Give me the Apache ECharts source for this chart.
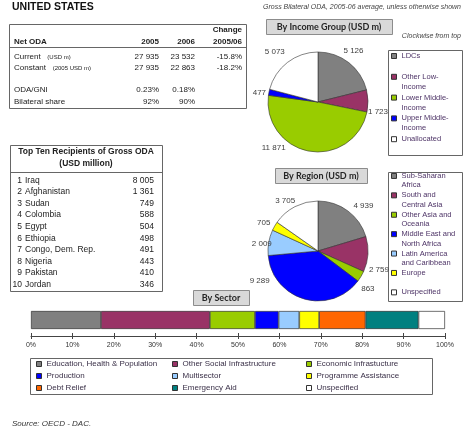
<!DOCTYPE html>
<html>
<head>
<meta charset="utf-8">
<script src="https://cdn.jsdelivr.net/npm/echarts@6/dist/echarts.min.js"></script>
<style>
  html, body { margin: 0; padding: 0; background: #fff; }
  #main { width: 474px; height: 431px; }
</style>
</head>
<body>
<div id="main"></div>
<script>
// net ODA table
const odaLabels = ['Current', 'Constant', 'ODA/GNI', 'Bilateral share'];
const odaUnits = ['(USD m)', '(2005 USD m)', '', ''];
const oda2005 = ['27 935', '27 935', '0.23%', '92%'];
const oda2006 = ['23 532', '22 863', '0.18%', '90%'];
const odaChange = ['-15.8%', '-18.2%', '', ''];

// top ten recipients
const recipients = ['Iraq', 'Afghanistan', 'Sudan', 'Colombia', 'Egypt', 'Ethiopia',
  'Congo, Dem. Rep.', 'Nigeria', 'Pakistan', 'Jordan'];
const recipientValues = [8005, 1361, 749, 588, 504, 498, 491, 443, 410, 346];

// pies
const incomeGroups = ['LDCs', 'Other Low-Income', 'Lower Middle-Income', 'Upper Middle-Income', 'Unallocated'];
const incomeValues = [5126, 1723, 11871, 477, 5073];
const regions = ['Sub-Saharan Africa', 'South and Central Asia', 'Other Asia and Oceania',
  'Middle East and North Africa', 'Latin America and Caribbean', 'Europe', 'Unspecified'];
const regionValues = [4939, 2759, 863, 9289, 2009, 705, 3705];

// sector shares (%)
const sectors = ['Education, Health & Population', 'Other Social Infrastructure', 'Economic Infrastucture',
  'Production', 'Multisector', 'Programme Assistance', 'Debt Relief', 'Emergency Aid', 'Unspecified'];
const sectorShares = [16.9, 26.3, 10.9, 5.7, 5.0, 4.8, 11.2, 12.8, 6.4];

const incomeColors = ['#808080', '#993366', '#99cc00', '#0000ff', '#ffffff'];
const regionColors = ['#808080', '#993366', '#99cc00', '#0000ff', '#99ccff', '#ffff00', '#ffffff'];
const sectorColors = ['#808080', '#993366', '#99cc00', '#0000ff', '#99ccff', '#ffff00', '#ff6600', '#008080', '#ffffff'];

const incomeLegendText = ['LDCs\n\u00a0', 'Other Low-\nIncome', 'Lower Middle-\nIncome', 'Upper Middle-\nIncome', 'Unallocated\n\u00a0'];
const regionLegendText = ['Sub-Saharan\nAfrica', 'South and\nCentral Asia', 'Other Asia and\nOceania',
  'Middle East and\nNorth Africa', 'Latin America\nand Caribbean', 'Europe\n\u00a0', 'Unspecified\n\u00a0'];

// nudges so the pie labels sit where excel put them
const incomeLabelShift = [[-14, -7], [-11, 11], [-18, -9], [8, 2], [6, -6]];
const regionLabelShift = [[-3, 0], [-10, 15], [-10, 9], [-28, -24], [14, 2], [6, 0], [8, -1]];

const FONT = '"Liberation Sans", Arial, sans-serif';
const HFONT = 'Lato, "Liberation Sans", sans-serif';

function fmt(n) {
  return String(n).replace(/\B(?=(\d{3})+(?!\d))/g, ' ');
}

let chart = echarts.init(document.getElementById('main'));

// ---- graphic: texts, tables, boxes
let g = [];
function txt(x, y, text, opt) {
  g.push({
    type: 'text', x: x, y: y, silent: true,
    style: Object.assign({ text: text, fill: '#222', font: '8px ' + FONT, align: 'left', verticalAlign: 'middle' }, opt || {})
  });
}
function box(x, y, w, h, fill, stroke) {
  g.push({
    type: 'rect', silent: true, shape: { x: x + 0.5, y: y + 0.5, width: w, height: h },
    style: { fill: fill || 'none', stroke: stroke || '#666', lineWidth: 1 }
  });
}
function header(x, y, w, h, text) {
  g.push({
    type: 'rect', silent: true, shape: { x: x + 0.5, y: y + 0.5, width: w, height: h },
    style: { fill: '#d9d9d9', stroke: '#8c8c8c', lineWidth: 1 }
  });
  txt(x + w / 2, y + h / 2 + 1, text, { font: 'bold 9px ' + HFONT, align: 'center', fill: '#262626' });
}

txt(12, 7, 'UNITED STATES', { font: 'bold 10.5px ' + FONT, fill: '#111' });
txt(461, 7, 'Gross Bilateral ODA, 2005-06 average, unless otherwise shown', { font: 'italic 7px ' + FONT, align: 'right', fill: '#444' });
txt(461, 36, 'Clockwise from top', { font: 'italic 7px ' + FONT, align: 'right', fill: '#444' });
txt(12, 424, 'Source: OECD - DAC.', { font: 'italic 8px ' + FONT, fill: '#333' });

// net ODA table
box(9, 24, 237, 84);
g.push({ type: 'line', silent: true, shape: { x1: 9, y1: 47.5, x2: 246, y2: 47.5 }, style: { stroke: '#666', lineWidth: 1 } });
txt(14, 42, 'Net ODA', { font: 'bold 8px ' + FONT });
txt(159, 42, '2005', { font: 'bold 8px ' + FONT, align: 'right' });
txt(195, 42, '2006', { font: 'bold 8px ' + FONT, align: 'right' });
txt(242, 30, 'Change', { font: 'bold 8px ' + FONT, align: 'right' });
txt(242, 42, '2005/06', { font: 'bold 8px ' + FONT, align: 'right' });
const odaY = [57, 68, 90, 102];
odaLabels.forEach(function (l, i) {
  g.push({
    type: 'text', x: 14, y: odaY[i], silent: true,
    style: {
      text: '{a|' + l + '}' + (odaUnits[i] ? '  {b|' + odaUnits[i] + '}' : ''),
      verticalAlign: 'middle',
      rich: { a: { font: '8px ' + FONT, fill: '#222' }, b: { font: '6px ' + FONT, fill: '#222' } }
    }
  });
  txt(159, odaY[i], oda2005[i], { align: 'right' });
  txt(195, odaY[i], oda2006[i], { align: 'right' });
  txt(242, odaY[i], odaChange[i], { align: 'right' });
});

// top ten table
box(10, 145, 152, 146);
g.push({ type: 'line', silent: true, shape: { x1: 10, y1: 172.5, x2: 162, y2: 172.5 }, style: { stroke: '#666', lineWidth: 1 } });
txt(86, 152, 'Top Ten Recipients of Gross ODA', { font: 'bold 8.5px ' + FONT, align: 'center' });
txt(86, 163.5, '(USD million)', { font: 'bold 8.5px ' + FONT, align: 'center' });
recipients.forEach(function (r, i) {
  let y = 180.5 + i * 11.55;
  txt(22, y, String(i + 1), { align: 'right', font: '8.5px ' + FONT });
  txt(25, y, r, { font: '8.5px ' + FONT });
  txt(154, y, fmt(recipientValues[i]), { align: 'right', font: '8.5px ' + FONT });
});

// headers and legend frames
header(266, 19, 126, 15, 'By Income Group (USD m)');
header(275, 168, 92, 15, 'By Region (USD m)');
header(193, 290, 56, 15, 'By Sector');
box(388, 50, 74, 105);
box(388, 172, 74, 129);
box(30, 358, 402, 36);

// ---- series
function pieSeries(name, center, names, values, colors, shifts) {
  return {
    name: name, type: 'pie', radius: 50, center: center,
    startAngle: 90, clockwise: true, silent: true,
    avoidLabelOverlap: false,
    itemStyle: { borderColor: '#333', borderWidth: 0.6 },
    label: {
      show: true, position: 'outside', overflow: 'none', edgeDistance: 0, bleedMargin: 0,
      formatter: function (p) { return fmt(p.value); },
      color: '#404040', fontSize: 8, fontFamily: FONT
    },
    labelLine: { show: false, length: 6, length2: 0 },
    data: names.map(function (n, i) {
      return { name: n, value: values[i], itemStyle: { color: colors[i] }, label: { offset: shifts[i] } };
    })
  };
}

let series = [
  pieSeries('income', [318, 102], incomeGroups, incomeValues, incomeColors, incomeLabelShift),
  pieSeries('region', [318, 251], regions, regionValues, regionColors, regionLabelShift)
];
sectors.forEach(function (s, i) {
  series.push({
    name: s, type: 'bar', stack: 'sector', barWidth: 18, silent: true,
    itemStyle: { color: sectorColors[i], borderColor: '#333', borderWidth: 0.7 },
    data: [sectorShares[i]]
  });
});

const legendIcon = { borderColor: '#333', borderWidth: 1 };
// a blank first line keeps the marker level with the first text line
function sideLegend(names, texts, top, lh) {
  return {
    data: names, orient: 'vertical', left: 391, top: top, padding: 0,
    itemWidth: 5, itemHeight: 5, itemGap: -lh + 0.8, icon: 'rect', selectedMode: false,
    itemStyle: legendIcon,
    formatter: function (n) { return '\u00a0\n' + texts[names.indexOf(n)]; },
    textStyle: { fontSize: 7.5, lineHeight: lh, color: '#4d3366', fontFamily: FONT }
  };
}
function sectorLegend(idx, left) {
  return {
    data: idx.map(function (i) { return sectors[i]; }), orient: 'vertical', left: left, top: 359, padding: 0,
    itemWidth: 5, itemHeight: 5, itemGap: 2, icon: 'rect', selectedMode: false,
    itemStyle: legendIcon,
    textStyle: { fontSize: 8, lineHeight: 10, color: '#3a3048', fontFamily: FONT }
  };
}

chart.setOption({
  animation: false,
  graphic: g,
  grid: { left: 31, right: 29, top: 311, height: 18 },
  xAxis: [{
    type: 'value', min: 0, max: 100, interval: 10, position: 'bottom', offset: 7,
    axisLine: { show: true, lineStyle: { color: '#444', width: 1 } },
    axisTick: { show: true, length: 3, lineStyle: { color: '#444' } },
    axisLabel: { formatter: '{value}%', fontSize: 7, color: '#333', fontFamily: FONT, margin: 6 },
    splitLine: { show: false }
  }, {
    type: 'value', min: 0, max: 100, interval: 10, position: 'bottom', offset: 7,
    axisLine: { show: false },
    axisTick: { show: true, inside: true, length: 3, lineStyle: { color: '#444' } },
    axisLabel: { show: false }, splitLine: { show: false }
  }],
  yAxis: { type: 'category', data: ['sector'], show: false },
  legend: [
    sideLegend(incomeGroups, incomeLegendText, 41, 10),
    sideLegend(regions, regionLegendText, 162, 9.3),
    sectorLegend([0, 3, 6], 36),
    sectorLegend([1, 4, 7], 172),
    sectorLegend([2, 5, 8], 306)
  ],
  series: series
});
</script>
</body>
</html>
